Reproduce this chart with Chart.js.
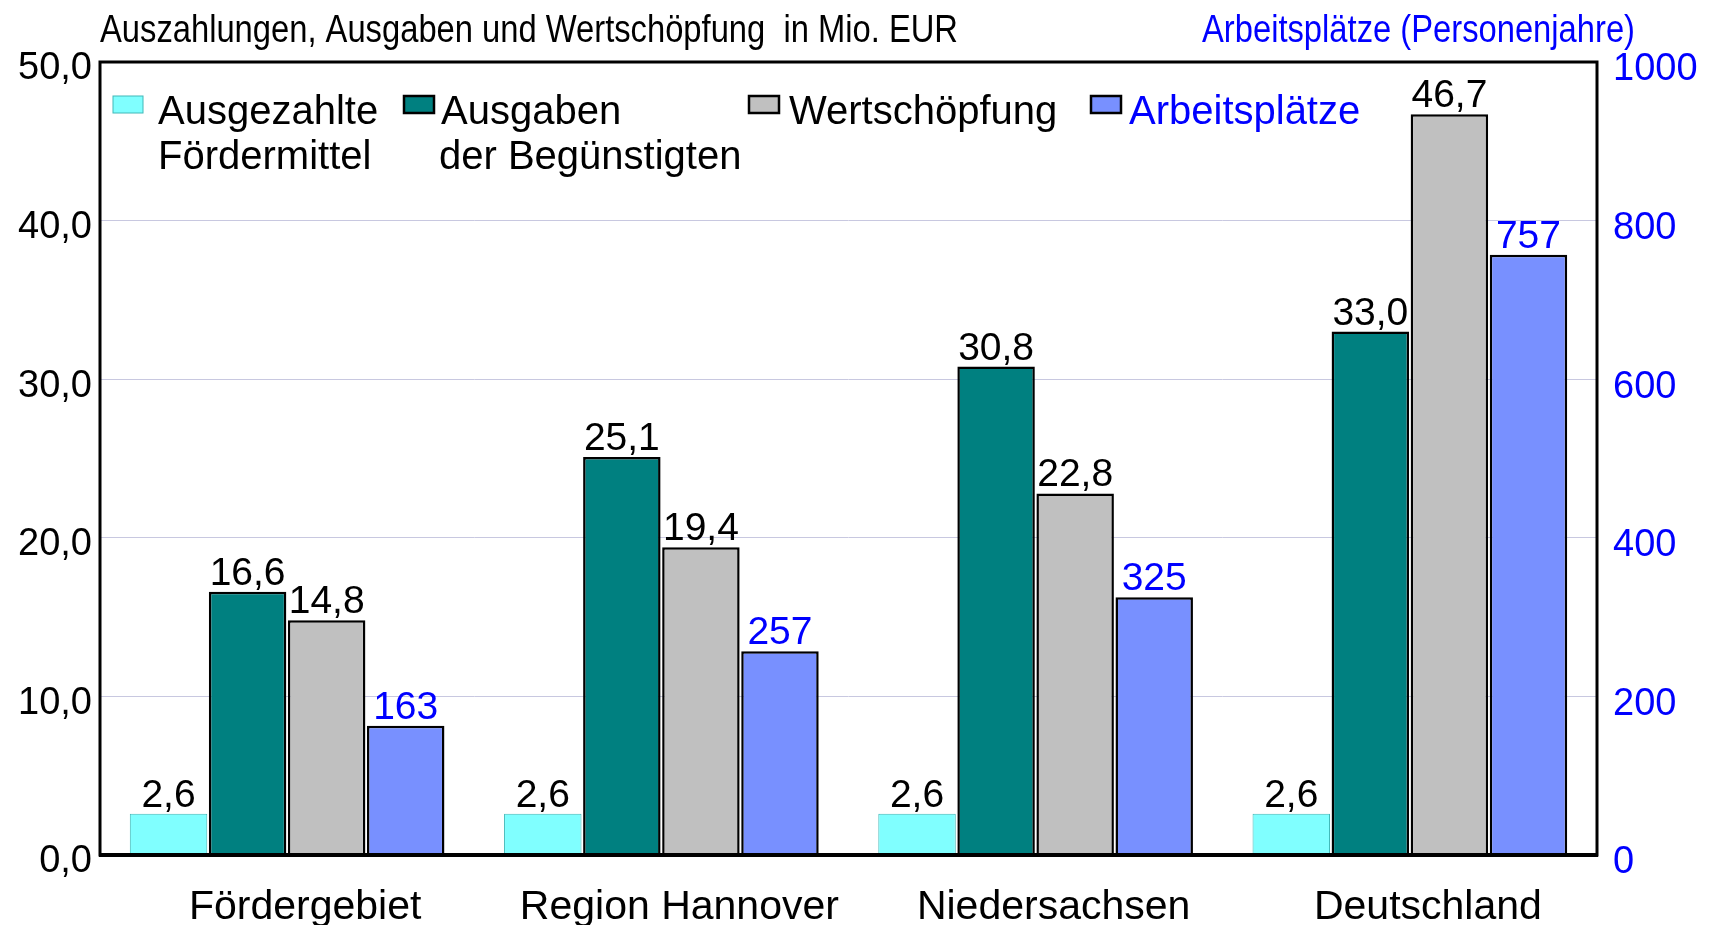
<!DOCTYPE html>
<html lang="de">
<head>
<meta charset="UTF-8">
<title>Förderung</title>
<script src="https://cdn.jsdelivr.net/npm/chart.js"></script>
<style>
    body { margin: 0; background: #fff; }
    #chart { display: block; }
</style>
</head>
<body>
<canvas id="chart" width="1711" height="925"></canvas>
<script>
// Daten
const regionen = ['Fördergebiet', 'Region Hannover', 'Niedersachsen', 'Deutschland'];
const foerdermittel = [2.6, 2.6, 2.6, 2.6];
const ausgaben = [16.6, 25.1, 30.8, 33.0];
const wertschoepfung = [14.8, 19.4, 22.8, 46.7];
const arbeitsplaetze = [163, 257, 325, 757];

const seriesNames = [['Ausgezahlte', 'Fördermittel'], ['Ausgaben', 'der Begünstigten'], ['Wertschöpfung'], ['Arbeitsplätze']];
const leftTicks = [0, 10, 20, 30, 40, 50];
const rightTicks = [0, 200, 400, 600, 800, 1000];

const FONT = '"Liberation Sans", Arial, sans-serif';
const BLUE = '#0000ff';

const fmt = v => v.toFixed(1).replace('.', ',');

// Werte über den Balken
const valueLabels = {
    id: 'valueLabels',
    afterDatasetsDraw(chart) {
        const ctx = chart.ctx;
        ctx.save();
        ctx.font = '39px ' + FONT;
        ctx.textAlign = 'center';
        ctx.textBaseline = 'alphabetic';
        chart.data.datasets.forEach((ds, i) => {
            const meta = chart.getDatasetMeta(i);
            meta.data.forEach((bar, j) => {
                const v = ds.data[j];
                ctx.fillStyle = ds.yAxisID === 'y2' ? BLUE : '#000';
                const txt = ds.yAxisID === 'y2' ? String(v) : fmt(v);
                ctx.fillText(txt, bar.x, bar.y - 7);
            });
        });
        ctx.restore();
    }
};

// Rahmen, Überschriften und Legende
const frame = {
    id: 'frame',
    afterDraw(chart) {
        const ctx = chart.ctx;
        const a = chart.chartArea;
        ctx.save();
        ctx.strokeStyle = '#000';
        ctx.lineWidth = 3;
        ctx.strokeRect(a.left, a.top, a.right - a.left, a.bottom - a.top);
        ctx.lineWidth = 4;
        ctx.beginPath();
        ctx.moveTo(a.left - 1, a.bottom);
        ctx.lineTo(a.right + 1, a.bottom);
        ctx.stroke();

        // Achsentitel (schmale Schrift: horizontal gestaucht)
        ctx.font = '38px ' + FONT;
        ctx.textBaseline = 'alphabetic';
        ctx.textAlign = 'left';
        const drawNarrow = (txt, x, y, w, col) => {
            const m = ctx.measureText(txt).width;
            ctx.save();
            ctx.fillStyle = col;
            ctx.translate(x, y);
            ctx.scale(w / m, 1);
            ctx.fillText(txt, 0, 0);
            ctx.restore();
        };
        drawNarrow('Auszahlungen, Ausgaben und Wertschöpfung  in Mio. EUR', a.left, 42, 858, '#000');
        drawNarrow('Arbeitsplätze (Personenjahre)', 1202, 42, 433, BLUE);

        // Legende
        ctx.font = '40px ' + FONT;
        const items = [
            { x: 13, tx: 58 },
            { x: 304, tx: 341 },
            { x: 649, tx: 689 },
            { x: 991, tx: 1029 }
        ];
        items.forEach((it, i) => {
            const ds = chart.data.datasets[i];
            const x0 = a.left + it.x;
            ctx.fillStyle = ds.backgroundColor;
            ctx.fillRect(x0, 96, 30, 17);
            ctx.lineWidth = i === 0 ? 1 : 2.5;
            ctx.strokeStyle = ds.borderColor;
            ctx.strokeRect(x0, 96, 30, 17);
            ctx.fillStyle = i === 3 ? BLUE : '#000';
            seriesNames[i].forEach((line, k) => {
                ctx.fillText(line, a.left + it.tx - (k > 0 && i === 1 ? 2 : 0), 124 + k * 45);
            });
        });
        ctx.restore();
    }
};

const gridColor = ctx => {
    const v = ctx.tick && ctx.tick.value;
    return (v === 0 || v === 50) ? 'rgba(0,0,0,0)' : '#c8c8e0';
};

const chart = new Chart(document.getElementById('chart'), {
    type: 'bar',
    data: {
        labels: regionen,
        datasets: [
            { label: 'Ausgezahlte Fördermittel', data: foerdermittel, backgroundColor: '#80ffff', borderColor: '#40b8b8', borderWidth: 1, yAxisID: 'y' },
            { label: 'Ausgaben der Begünstigten', data: ausgaben, backgroundColor: '#008080', borderColor: '#000', borderWidth: 2.5, yAxisID: 'y' },
            { label: 'Wertschöpfung', data: wertschoepfung, backgroundColor: '#c0c0c0', borderColor: '#000', borderWidth: 2.5, yAxisID: 'y' },
            { label: 'Arbeitsplätze', data: arbeitsplaetze, backgroundColor: '#7890ff', borderColor: '#000', borderWidth: 2.5, yAxisID: 'y2' }
        ]
    },
    options: {
        responsive: false,
        animation: false,
        devicePixelRatio: 1,
        layout: { padding: { top: 62, left: 0, right: 0, bottom: 0 } },
        plugins: {
            legend: { display: false },
            tooltip: { enabled: false }
        },
        datasets: {
            bar: { categoryPercentage: 0.845, barPercentage: 0.98 }
        },
        scales: {
            x: {
                grid: { display: false, drawTicks: false },
                border: { display: false },
                ticks: { color: '#000', font: { family: FONT, size: 41 }, padding: 28, maxRotation: 0, labelOffset: 18 },
                afterFit: s => { s.height = 70; }
            },
            y: {
                position: 'left',
                min: 0, max: 50,
                afterBuildTicks: s => { s.ticks = leftTicks.map(v => ({ value: v })); },
                grid: { color: gridColor, lineWidth: 1, drawTicks: false },
                border: { display: false },
                ticks: { color: '#000', font: { family: FONT, size: 38 }, padding: 8, labelOffset: 7, callback: v => fmt(v) },
                afterFit: s => { s.width = 100; }
            },
            y2: {
                position: 'right',
                min: 0, max: 1000,
                afterBuildTicks: s => { s.ticks = rightTicks.map(v => ({ value: v })); },
                grid: { display: false, drawTicks: false },
                border: { display: false },
                ticks: { color: BLUE, font: { family: FONT, size: 38 }, padding: 16, labelOffset: 8, callback: v => String(v) },
                afterFit: s => { s.width = 114; }
            }
        }
    },
    plugins: [valueLabels, frame]
});
</script>
</body>
</html>
